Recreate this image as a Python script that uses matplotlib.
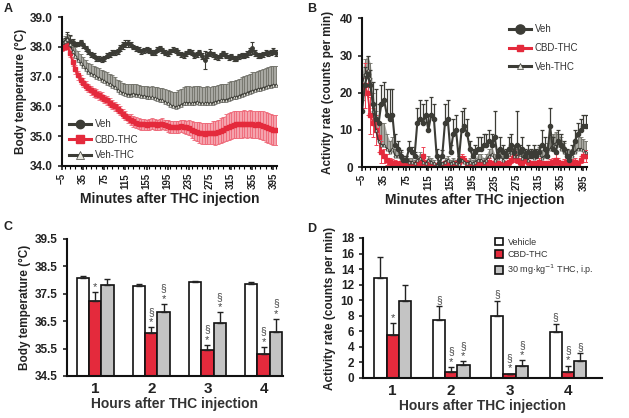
import numpy as np
from matplotlib import pyplot as plt
from matplotlib.ticker import FormatStrFormatter, MultipleLocator

plt.rcParams['font.family'] = ['Liberation Sans', 'DejaVu Sans']

# ---- time course data (5-min bins) ----
minutes = list(range(-5, 405, 5))
min_ticks = list(range(-5, 400, 40))

temp_veh = [38.00, 38.15, 38.25, 38.20, 38.15, 38.10, 38.10, 38.15, 38.05, 37.95,
            37.85, 37.75, 37.70, 37.62, 37.60, 37.58, 37.62, 37.70, 37.75, 37.80,
            37.82, 37.85, 37.95, 38.05, 38.10, 38.12, 38.08, 38.00, 37.95, 37.90,
            37.85, 37.88, 37.92, 37.88, 37.80, 37.82, 37.90, 37.95, 37.88, 37.80,
            37.78, 37.85, 37.90, 37.88, 37.80, 37.75, 37.72, 37.78, 37.85, 37.80,
            37.72, 37.75, 37.82, 37.70, 37.55, 37.72, 37.80, 37.75, 37.68, 37.65,
            37.72, 37.78, 37.70, 37.65, 37.68, 37.62, 37.60, 37.68, 37.72, 37.70,
            37.75, 37.85, 37.95, 37.80, 37.72, 37.70, 37.75, 37.80, 37.78, 37.82,
            37.85, 37.80]
temp_veh_err = [0.10, 0.15, 0.25, 0.20, 0.10, 0.08, 0.08, 0.08, 0.08, 0.08,
                0.08, 0.08, 0.08, 0.08, 0.08, 0.08, 0.08, 0.08, 0.08, 0.08,
                0.08, 0.08, 0.10, 0.12, 0.12, 0.12, 0.10, 0.08, 0.08, 0.08,
                0.08, 0.08, 0.08, 0.08, 0.08, 0.08, 0.08, 0.08, 0.08, 0.08,
                0.08, 0.08, 0.08, 0.08, 0.08, 0.08, 0.08, 0.08, 0.08, 0.08,
                0.08, 0.08, 0.08, 0.10, 0.30, 0.10, 0.12, 0.08, 0.08, 0.08,
                0.08, 0.08, 0.08, 0.08, 0.08, 0.08, 0.08, 0.08, 0.08, 0.08,
                0.10, 0.12, 0.20, 0.10, 0.08, 0.08, 0.08, 0.08, 0.08, 0.08,
                0.10, 0.10]
temp_thc = [38.15, 38.20, 38.25, 38.10, 37.85, 37.70, 37.55, 37.45, 37.35, 37.25,
            37.15, 37.10, 37.05, 37.00, 36.95, 36.90, 36.85, 36.80, 36.75, 36.70,
            36.65, 36.55, 36.50, 36.45, 36.42, 36.40, 36.40, 36.42, 36.40, 36.38,
            36.35, 36.35, 36.33, 36.30, 36.30, 36.28, 36.25, 36.22, 36.20, 36.15,
            36.10, 36.05, 36.00, 35.98, 36.00, 36.05, 36.10, 36.12, 36.12, 36.10,
            36.12, 36.15, 36.12, 36.10, 36.10, 36.12, 36.10, 36.12, 36.15, 36.18,
            36.20, 36.22, 36.22, 36.25, 36.28, 36.30, 36.32, 36.35, 36.40, 36.42,
            36.45, 36.50, 36.52, 36.55, 36.58, 36.60, 36.62, 36.65, 36.68, 36.70,
            36.72, 36.72]
temp_thc_err = [0.10, 0.15, 0.20, 0.25, 0.25, 0.28, 0.30, 0.30, 0.30, 0.30,
                0.30, 0.32, 0.32, 0.32, 0.33, 0.33, 0.35, 0.35, 0.35, 0.35,
                0.35, 0.35, 0.35, 0.35, 0.35, 0.35, 0.35, 0.35, 0.35, 0.35,
                0.35, 0.35, 0.35, 0.36, 0.38, 0.38, 0.40, 0.40, 0.42, 0.42,
                0.45, 0.48, 0.50, 0.52, 0.55, 0.55, 0.55, 0.55, 0.55, 0.55,
                0.55, 0.55, 0.55, 0.55, 0.55, 0.55, 0.55, 0.55, 0.55, 0.55,
                0.55, 0.55, 0.55, 0.56, 0.56, 0.57, 0.58, 0.58, 0.60, 0.60,
                0.60, 0.60, 0.62, 0.62, 0.62, 0.63, 0.64, 0.64, 0.65, 0.65,
                0.65, 0.65]
temp_cbd = [37.95, 38.00, 38.05, 37.80, 37.50, 37.25, 37.05, 36.90, 36.80, 36.70,
            36.62, 36.55, 36.48, 36.42, 36.38, 36.32, 36.25, 36.20, 36.12, 36.05,
            36.00, 35.92, 35.85, 35.75, 35.68, 35.60, 35.55, 35.50, 35.45, 35.42,
            35.40, 35.40, 35.38, 35.40, 35.42, 35.40, 35.38, 35.40, 35.42, 35.38,
            35.35, 35.32, 35.30, 35.30, 35.32, 35.35, 35.32, 35.30, 35.28, 35.22,
            35.18, 35.15, 35.12, 35.10, 35.08, 35.10, 35.10, 35.12, 35.12, 35.15,
            35.18, 35.22, 35.28, 35.32, 35.35, 35.38, 35.40, 35.40, 35.40, 35.42,
            35.40, 35.42, 35.40, 35.38, 35.40, 35.38, 35.35, 35.30, 35.28, 35.25,
            35.22, 35.20]
temp_cbd_err = [0.10, 0.10, 0.12, 0.15, 0.15, 0.15, 0.15, 0.15, 0.15, 0.15,
                0.15, 0.15, 0.15, 0.15, 0.15, 0.15, 0.15, 0.15, 0.15, 0.15,
                0.15, 0.15, 0.15, 0.15, 0.15, 0.15, 0.18, 0.18, 0.18, 0.18,
                0.18, 0.18, 0.18, 0.18, 0.18, 0.18, 0.18, 0.18, 0.18, 0.18,
                0.20, 0.20, 0.20, 0.20, 0.20, 0.20, 0.22, 0.22, 0.25, 0.28,
                0.30, 0.32, 0.35, 0.35, 0.35, 0.35, 0.35, 0.38, 0.40, 0.40,
                0.42, 0.42, 0.45, 0.45, 0.45, 0.45, 0.45, 0.45, 0.45, 0.45,
                0.45, 0.45, 0.45, 0.45, 0.45, 0.48, 0.48, 0.50, 0.50, 0.50,
                0.50, 0.50]

act_veh = [15, 22, 25, 22, 17, 13, 12, 17, 18, 14,
           13, 14, 6, 5, 3, 2, 2, 5, 4, 3,
           12, 13, 12, 14, 10, 14, 13, 3, 1, 3,
           12, 13, 4, 9, 10, 2, 10, 11, 9, 5,
           3, 4, 5, 5, 6, 6, 7, 6, 8, 3,
           5, 4, 3, 5, 6, 4, 6, 4, 5, 3,
           4, 3, 4, 3, 4, 6, 5, 3, 11, 5,
           4, 7, 6, 5, 3, 2, 4, 7, 9, 10,
           11, 11]
act_veh_err = [3, 5, 5, 4, 6, 8, 5, 5, 5, 7,
               8, 7, 3, 2, 1.5, 1, 1, 2, 1.5, 1,
               4, 5, 5, 4, 4, 5, 4, 2, 1, 1.5,
               5, 5, 2, 4, 4, 1, 5, 5, 4, 2,
               2, 2, 3, 3, 3, 3, 3, 3, 7, 2,
               3, 2, 2, 3, 3, 2, 9, 2, 3, 2,
               2, 2, 2, 2, 2, 4, 3, 2, 5, 3,
               2, 3, 3, 2, 2, 1.5, 2, 3, 3, 3,
               3, 3]
act_thc = [22, 25, 26, 24, 15, 10, 7, 6, 6, 5,
           4, 5, 3, 3, 2.5, 2, 2, 1.5, 1.5, 1,
           2, 2.5, 1.5, 1, 2, 1.5, 1, 0.5, 1, 1,
           1.5, 2, 1, 1.5, 1, 0.8, 2, 1.5, 1, 1.5,
           1, 1.5, 2, 2, 1.5, 2, 3, 3.5, 2, 2.5,
           3, 2, 3, 3.5, 4, 3, 3, 3.5, 2.5, 3,
           2, 3, 2.5, 3, 3.5, 2.5, 3, 4, 5, 6,
           6.5, 6, 5, 4, 3, 2.5, 3, 4, 5, 5,
           4.5, 4]
act_thc_err = [3, 4, 4, 4, 5, 5, 5, 6, 6, 4,
               3, 3, 2, 2, 1.5, 1, 1, 1, 1, 1,
               1, 1.5, 1, 1, 1, 1, 1, 0.5, 0.5, 0.5,
               1, 1, 1, 1, 1, 1, 1, 1, 1, 1,
               1, 1, 1.5, 1.5, 1, 1.5, 2, 2, 1.5, 2,
               2, 1.5, 2, 2, 2, 2, 2, 2, 2, 2,
               1.5, 2, 2, 2, 2, 2, 2, 2.5, 3, 3,
               3, 3, 3, 2.5, 2, 2, 2, 2.5, 3, 3,
               3, 3]
act_cbd = [20, 22, 20, 14, 12, 10, 8, 4, 3, 2,
           1.5, 1.2, 1, 0.8, 1, 0.5, 0.8, 1, 0.5, 0.8,
           1, 1.2, 3, 1, 0.5, 0.3, 0.5, 0.3, 0.5, 0.8,
           1, 0.5, 0.3, 0.5, 1, 1.5, 2.5, 2, 1, 0.5,
           0.3, 0.5, 0.8, 1, 0.5, 1.2, 1.5, 1, 0.5, 1,
           0.8, 0.5, 1, 1.5, 2, 3, 2, 1.5, 1, 2,
           1.5, 1, 0.5, 1, 1.5, 1, 0.8, 1, 1.2, 1.5,
           2, 1.5, 1, 1.2, 1.5, 1, 1.2, 1.5, 1, 2,
           3, 3]
act_cbd_err = [4, 6, 6, 5, 4, 4, 4, 3, 2, 1.5,
               1, 1, 1, 0.8, 0.8, 0.5, 0.5, 0.8, 0.5, 0.5,
               0.8, 1, 2.5, 1, 0.5, 0.5, 0.5, 0.3, 0.5, 0.5,
               0.8, 0.5, 0.3, 0.5, 0.8, 1, 1, 1, 0.8, 0.5,
               0.3, 0.5, 0.5, 0.8, 0.5, 0.8, 1, 0.8, 0.5, 0.8,
               0.5, 0.5, 0.8, 1, 1, 1.5, 1, 1, 0.8, 1,
               1, 0.8, 0.5, 0.8, 1, 0.8, 0.5, 0.8, 1, 1,
               1.5, 1, 0.8, 1, 1, 0.8, 1, 1, 0.8, 1,
               1.5, 1.5]

# ---- hourly summary data ----
hours = [1, 2, 3, 4]
hr_temp_veh = [38.09, 37.78, 37.93, 37.87]
hr_temp_veh_err = [0.05, 0.06, 0.05, 0.04]
hr_temp_cbd = [37.25, 36.07, 35.43, 35.32]
hr_temp_cbd_err = [0.30, 0.20, 0.20, 0.24]
hr_temp_thc = [37.81, 36.83, 36.43, 36.11]
hr_temp_thc_err = [0.24, 0.30, 0.40, 0.48]
hr_temp_marks_cbd = ['*', '§*', '§*', '§*']
hr_temp_marks_thc = ['', '§*', '§*', '§*']

hr_act_veh = [12.8, 7.45, 8.0, 5.95]
hr_act_veh_err = [2.75, 1.75, 1.95, 1.05]
hr_act_cbd = [5.5, 0.75, 0.45, 0.8]
hr_act_cbd_err = [1.6, 0.7, 0.12, 0.8]
hr_act_thc = [9.9, 1.7, 1.6, 2.15]
hr_act_thc_err = [2.1, 0.45, 0.7, 1.05]
hr_act_marks_veh = ['', '§', '§', '§']
hr_act_marks_cbd = ['*', '§*', '§*', '§*']
hr_act_marks_thc = ['', '§*', '§*', '§']

dark = '#3c3c36'
red = '#e42a3c'
txt = '#222222'

fig = plt.figure(figsize=(6.29, 4.18), dpi=100)
axA = fig.add_axes([0.0986, 0.603, 0.342, 0.356])
axB = fig.add_axes([0.5755, 0.600, 0.358, 0.356])
axC = fig.add_axes([0.1065, 0.1005, 0.343, 0.328])
axD = fig.add_axes([0.577, 0.0957, 0.380, 0.335])


def style_axis(ax):
    for s in ['top', 'right']:
        ax.spines[s].set_visible(False)
    for s in ['left', 'bottom']:
        ax.spines[s].set_linewidth(1.5)
        ax.spines[s].set_color('#111111')
    ax.tick_params(width=1.2, length=3, colors=txt, labelsize=8)
    for lab in ax.get_yticklabels() + ax.get_xticklabels():
        lab.set_fontweight('bold')


# ---- A: body temperature time course ----
m = np.array(minutes)
tv, tve = np.array(temp_veh), np.array(temp_veh_err)
tt, tte = np.array(temp_thc), np.array(temp_thc_err)
tc, tce = np.array(temp_cbd), np.array(temp_cbd_err)

axA.fill_between(m, tt, tt + tte, color='#a8a8a2', lw=0)
axA.errorbar(m, tt, yerr=[np.zeros_like(tte), tte], fmt='none', ecolor='#707068',
             elinewidth=0.6, capsize=1.2, capthick=0.6)
axA.fill_between(m, tc - tce, tc + tce, color='#f5a3ad', lw=0)
axA.errorbar(m, tc, yerr=tce, fmt='none', ecolor='#ee6676', elinewidth=0.6,
             capsize=1.2, capthick=0.6)
axA.errorbar(m, tv, yerr=tve, fmt='none', ecolor=dark, elinewidth=0.8,
             capsize=1.5, capthick=0.8)
axA.plot(m, tv, color=dark, lw=1.5, marker='o', ms=2.5, mfc=dark, mec=dark, label='Veh')
axA.plot(m, tc, color=red, lw=1.5, marker='s', ms=2.5, mfc=red, mec=red, label='CBD-THC')
axA.plot(m, tt, color=dark, lw=1.0, marker='^', ms=2.5, mfc='#e8e8e0', mec=dark,
         mew=0.5, label='Veh-THC')
axA.set_xlim(-5, 402)
axA.set_ylim(34, 39)
axA.set_xticks(min_ticks)
axA.xaxis.set_minor_locator(MultipleLocator(10))
axA.tick_params(axis='x', which='minor', length=2, width=0.8)
axA.yaxis.set_major_formatter(FormatStrFormatter('%.1f'))
axA.set_ylabel('Body temperature (°C)', fontsize=8.5, fontweight='bold', color=txt, labelpad=2)
axA.set_xlabel('Minutes after THC injection', fontsize=10, fontweight='bold', color=txt, labelpad=2)
style_axis(axA)
axA.tick_params(axis='x', labelrotation=90, labelsize=7, pad=2)
axA.tick_params(axis='y', labelsize=8.5)
legA = axA.legend(loc='lower left', bbox_to_anchor=(-0.01, -0.02), frameon=False, fontsize=7,
                  handlelength=2.3, labelspacing=0.55, handletextpad=0.4, markerscale=2.4)
for t in legA.get_texts():
    t.set_color('#333333')
for ln in legA.get_lines():
    ln.set_linewidth(2.2)

# ---- B: activity time course ----
av, ave = np.array(act_veh), np.array(act_veh_err)
at, ate = np.array(act_thc), np.array(act_thc_err)
ac, ace = np.array(act_cbd), np.array(act_cbd_err)

axB.fill_between(m, at, at + ate, color='#a8a8a2', lw=0)
axB.errorbar(m, at, yerr=[np.zeros_like(ate), ate], fmt='none', ecolor='#707068',
             elinewidth=0.6, capsize=1.2, capthick=0.6)
axB.errorbar(m, ac, yerr=ace, fmt='none', ecolor='#ee4456', elinewidth=0.7,
             capsize=1.2, capthick=0.7)
axB.errorbar(m, av, yerr=[np.zeros_like(ave), ave], fmt='none', ecolor=dark,
             elinewidth=0.9, capsize=1.5, capthick=0.9)
axB.plot(m, ac, color=red, lw=1.3, marker='s', ms=2.2, mfc=red, mec=red, label='CBD-THC')
axB.plot(m, at, color=dark, lw=1.0, marker='^', ms=2.2, mfc='#e8e8e0', mec=dark,
         mew=0.5, label='Veh-THC')
axB.plot(m, av, color=dark, lw=1.5, marker='o', ms=3, mfc=dark, mec=dark, label='Veh')
axB.set_xlim(-5, 402)
axB.set_ylim(0, 40)
axB.set_xticks(min_ticks)
axB.xaxis.set_minor_locator(MultipleLocator(10))
axB.tick_params(axis='x', which='minor', length=2, width=0.8)
axB.set_yticks([0, 10, 20, 30, 40])
axB.set_ylabel('Activity rate (counts per min)', fontsize=8.5, fontweight='bold', color=txt, labelpad=4)
axB.set_xlabel('Minutes after THC injection', fontsize=10, fontweight='bold', color=txt, labelpad=2)
style_axis(axB)
axB.tick_params(axis='x', labelrotation=90, labelsize=7, pad=2)
axB.tick_params(axis='y', labelsize=8.5)
h, l = axB.get_legend_handles_labels()
order = [2, 0, 1]
legB = axB.legend([h[i] for i in order], [l[i] for i in order], loc='upper right',
                  bbox_to_anchor=(1.0, 1.02), frameon=False, fontsize=7, handlelength=2.3,
                  labelspacing=0.9, handletextpad=0.4, markerscale=2.2)
for t in legB.get_texts():
    t.set_color('#333333')
for ln in legB.get_lines():
    ln.set_linewidth(2.2)


# ---- C and D: hourly bars ----
def bar_panel(ax, veh, veh_e, cbd, cbd_e, thc, thc_e, width):
    x = np.array(hours)
    specs = [(x - width, veh, veh_e, 'white', 'Vehicle'),
             (x, cbd, cbd_e, red, 'CBD-THC'),
             (x + width, thc, thc_e, '#c4c4c4', '30 mg·kg$^{-1}$ THC, i.p.')]
    for xs, vals, errs, col, lab in specs:
        ax.bar(xs, vals, width, color=col, edgecolor='#111111', lw=1.2, label=lab,
               yerr=[np.zeros(len(errs)), errs], capsize=2,
               error_kw=dict(ecolor='#222222', elinewidth=1.0, capthick=1.0))


def add_marks(ax, xs, vals, errs, marks):
    # '*' sits just above the error bar, '§' stacked above it
    for xv, v, e, mk in zip(xs, vals, errs, marks):
        off = 0.0
        if '*' in mk:
            ax.annotate('*', (xv, v + e), xytext=(0, off), textcoords='offset points',
                        ha='center', va='bottom', fontsize=8, color='#444444')
            off += 6.5
        if '§' in mk:
            ax.annotate('§', (xv, v + e), xytext=(0, off + 1), textcoords='offset points',
                        ha='center', va='bottom', fontsize=7.5, color='#444444')


x = np.array(hours)
bar_panel(axC, hr_temp_veh, hr_temp_veh_err, hr_temp_cbd, hr_temp_cbd_err,
          hr_temp_thc, hr_temp_thc_err, 0.22)
axC.set_ylim(34.5, 39.5)
axC.set_xlim(0.5, 4.34)
axC.set_yticks([34.5, 35.5, 36.5, 37.5, 38.5, 39.5])
axC.yaxis.set_major_formatter(FormatStrFormatter('%.1f'))
add_marks(axC, x, hr_temp_cbd, hr_temp_cbd_err, hr_temp_marks_cbd)
add_marks(axC, x + 0.22, hr_temp_thc, hr_temp_thc_err, hr_temp_marks_thc)
axC.set_xticks(hours)
axC.set_ylabel('Body temperature (°C)', fontsize=8.5, fontweight='bold', color=txt, labelpad=3)
axC.set_xlabel('Hours after THC injection', fontsize=10, fontweight='bold', color='#333333', labelpad=1)
style_axis(axC)
axC.tick_params(axis='x', length=0, labelsize=11, pad=4)
axC.tick_params(axis='y', labelsize=8.5)

bar_panel(axD, hr_act_veh, hr_act_veh_err, hr_act_cbd, hr_act_cbd_err,
          hr_act_thc, hr_act_thc_err, 0.21)
axD.set_ylim(0, 18)
axD.set_xlim(0.49, 4.58)
axD.set_yticks(range(0, 19, 2))
add_marks(axD, x - 0.21, hr_act_veh, hr_act_veh_err, hr_act_marks_veh)
add_marks(axD, x, hr_act_cbd, hr_act_cbd_err, hr_act_marks_cbd)
add_marks(axD, x + 0.21, hr_act_thc, hr_act_thc_err, hr_act_marks_thc)
axD.set_xticks(hours)
axD.set_ylabel('Activity rate (counts per min)', fontsize=8.5, fontweight='bold', color=txt, labelpad=3)
axD.set_xlabel('Hours after THC injection', fontsize=10, fontweight='bold', color='#333333', labelpad=1)
style_axis(axD)
axD.tick_params(axis='x', length=0, labelsize=11, pad=4)
axD.tick_params(axis='y', labelsize=8.5)
legD = axD.legend(loc='upper right', bbox_to_anchor=(1.0, 1.06), frameon=False, fontsize=6.5,
                  handlelength=0.9, handleheight=0.9, labelspacing=0.4, handletextpad=0.5)
for t in legD.get_texts():
    t.set_color('#333333')

for lbl, (fx, fy) in zip('ABCD', [(0.006, 0.978), (0.488, 0.978), (0.006, 0.458), (0.488, 0.452)]):
    fig.text(fx, fy, lbl, fontsize=9, fontweight='bold', color=txt, va='center')

fig.savefig('out.png', dpi=100)
